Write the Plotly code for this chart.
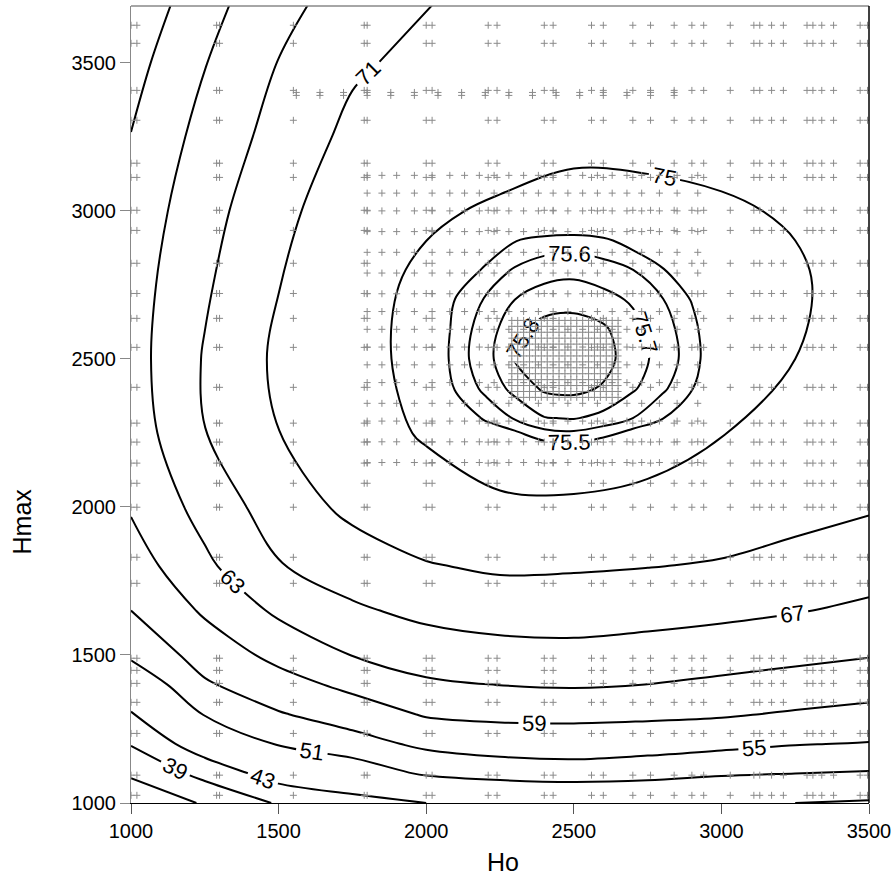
import plotly.graph_objects as go

# ---------------- data ----------------
ho_cols = [1000, 1250, 1500, 1750, 2000, 2250, 2500, 2750, 3000, 3250, 3500]
hmax_rows = [1000, 1100, 1200, 1300, 1400, 1500, 1650, 1800, 2000, 2250, 2500, 2750, 3000, 3250, 3500, 3700]
z_grid = [
    [31.9, 35.4, 39.4, 40.7, 43.0, 44.2, 44.9, 44.5, 43.8, 43.0, 42.25],
    [35.6, 40.24, 44.9, 48.3, 51.6, 53.0, 53.5, 53.0, 51.7, 51.0, 50.66],
    [39.26, 45.46, 51.4, 53.45, 55.86, 56.57, 56.64, 56.33, 55.96, 55.2, 54.8],
    [42.57, 51.32, 54.7, 56.86, 59.36, 59.94, 60.07, 59.82, 59.42, 58.6, 57.9],
    [47.58, 54.52, 57.44, 60.0, 62.39, 63.07, 63.37, 62.97, 62.24, 61.44, 60.67],
    [51.75, 56.66, 60.08, 63.1, 64.83, 65.56, 65.84, 65.36, 64.7, 63.98, 63.24],
    [55.0, 59.54, 63.73, 66.4, 68.0, 68.8, 68.85, 68.45, 67.94, 67.22, 66.29],
    [57.03, 62.21, 66.76, 69.0, 70.74, 71.55, 71.4, 71.1, 70.69, 69.62, 68.65],
    [59.4, 64.4, 69.0, 71.9, 73.7, 74.88, 74.88, 74.72, 73.1, 72.4, 71.4],
    [60.8, 66.95, 70.95, 73.8, 75.28, 75.42, 75.56, 75.46, 75.1, 74.0, 72.5],
    [61.4, 67.3, 71.7, 74.55, 75.4, 75.72, 75.86, 75.72, 75.4, 75.0, 73.6],
    [61.2, 66.5, 70.9, 74.45, 75.32, 75.6, 75.72, 75.65, 75.45, 75.3, 74.0],
    [60.4, 65.6, 69.8, 73.65, 74.78, 75.2, 75.4, 75.4, 75.25, 74.8, 73.8],
    [59.1, 64.4, 68.4, 72.0, 73.6, 74.3, 74.7, 74.6, 74.3, 74.0, 73.3],
    [57.6, 62.85, 67.1, 70.4, 72.1, 73.0, 73.5, 73.6, 73.4, 73.3, 72.8],
    [56.0, 61.5, 65.9, 68.6, 70.9, 71.9, 72.6, 72.8, 72.9, 72.8, 72.4],
]

ho_fine = [2000, 2100, 2200, 2300, 2400, 2500, 2600, 2700, 2800, 2900, 3000]
hmax_fine = [2100, 2200, 2300, 2400, 2500, 2600, 2700, 2800, 2900, 3000]
z_fine = [
    [74.5, 74.8, 74.9, 75.02, 75.06, 75.07, 75.06, 75.03, 74.95, 74.85, 74.7],
    [74.9, 75.06, 75.21, 75.35, 75.44, 75.46, 75.41, 75.32, 75.22, 75.13, 75.04],
    [75.08, 75.32, 75.53, 75.61, 75.695, 75.707, 75.67, 75.6, 75.508, 75.33, 75.19],
    [75.24, 75.52, 75.623, 75.733, 75.816, 75.826, 75.79, 75.714, 75.62, 75.509, 75.32],
    [75.33, 75.553, 75.657, 75.806, 75.858, 75.868, 75.836, 75.749, 75.66, 75.551, 75.377],
    [75.31, 75.544, 75.646, 75.77, 75.838, 75.848, 75.816, 75.733, 75.647, 75.539, 75.362],
    [75.22, 75.511, 75.609, 75.70, 75.748, 75.76, 75.733, 75.687, 75.606, 75.493, 75.30],
    [75.11, 75.34, 75.532, 75.612, 75.659, 75.672, 75.646, 75.602, 75.516, 75.354, 75.21],
    [74.99, 75.16, 75.334, 75.495, 75.536, 75.545, 75.524, 75.451, 75.32, 75.21, 75.11],
    [74.85, 75.006, 75.12, 75.22, 75.283, 75.30, 75.27, 75.21, 75.14, 75.07, 75.01],
]

# observation points (design lattice)
sparse_ho = [1000, 1020, 1290, 1300, 1550, 1790, 1800, 2000, 2020, 2210, 2240, 2400, 2430,
             2560, 2600, 2700, 2760, 2840, 2900, 2940, 3030, 3110, 3130, 3170, 3210, 3290,
             3310, 3340, 3380, 3470, 3495]
sparse_hmax = [1026, 1094, 1235, 1340, 1404, 1448, 1489, 1742, 1830, 1999, 2080, 2148, 2219,
               2283, 2404, 2539, 2637, 2721, 2823, 2934, 3002, 3113, 3161, 3306, 3407, 3566, 3627]
mid_ho = [1800, 1850, 1900, 1960, 2020, 2080, 2130, 2180, 2230, 2280, 2330, 2380, 2430, 2480,
          2530, 2580, 2630, 2680, 2730, 2790, 2850, 2920]
mid_hmax = [2150, 2220, 2290, 2350, 2420, 2480, 2540, 2600, 2660, 2720, 2790, 2860, 2930,
            3000, 3060, 3120]
band_ho = [1560, 1640, 1720, 1800, 1880, 1960, 2040, 2120, 2200, 2280, 2360, 2440, 2520,
           2600, 2680, 2760, 2840]
band_hmax = [3390, 3400]
core_ho = [2290, 2310, 2330, 2350, 2370, 2390, 2410, 2430, 2450, 2470, 2490, 2510, 2530,
           2550, 2570, 2590, 2610, 2630, 2650]
core_hmax = [2370, 2390, 2410, 2430, 2450, 2470, 2490, 2510, 2530, 2550, 2570, 2590, 2610, 2630]

levels_low = (35, 43, 4)
levels_mid = (51, 75, 4)
levels_top = (75.5, 75.81, 0.1)

# ---------------- figure ----------------
FONT = "Arial, Liberation Sans, sans-serif"
fig = go.Figure()

def add_points(xs, ys, color):
    px, py = [], []
    for y in ys:
        for x in xs:
            px.append(x)
            py.append(y)
    fig.add_trace(go.Scatter(
        x=px, y=py, mode="markers", hoverinfo="skip", showlegend=False,
        marker=dict(symbol="cross-thin", size=5, line=dict(width=1, color=color), color=color),
    ))

add_points(sparse_ho, sparse_hmax, "#8a8a8a")
add_points(mid_ho, mid_hmax, "#8a8a8a")
add_points(band_ho, band_hmax, "#8a8a8a")
add_points(core_ho, core_hmax, "#8a8a8a")

def add_contour(x, y, z, lv):
    fig.add_trace(go.Contour(
        x=x, y=y, z=z, showscale=False, hoverinfo="skip", showlegend=False,
        autocontour=False,
        contours=dict(start=lv[0], end=lv[1], size=lv[2], coloring="none",
                      showlabels=True, labelfont=dict(family=FONT, size=22, color="black")),
        line=dict(color="black", width=2, smoothing=1.0),
    ))

add_contour(ho_cols, hmax_rows, z_grid, levels_low)
add_contour(ho_cols, hmax_rows, z_grid, levels_mid)
add_contour(ho_fine, hmax_fine, z_fine, levels_top)

fig.update_layout(
    width=894, height=877,
    showlegend=False,
    margin=dict(l=131, r=25, t=6, b=74, autoexpand=False),
    paper_bgcolor="white", plot_bgcolor="white",
    font=dict(family=FONT, color="black"),
    xaxis=dict(range=[1000, 3500], tickvals=[1000, 1500, 2000, 2500, 3000, 3500],
               ticks="outside", ticklen=10, tickwidth=1, tickcolor="#555",
               showline=True, linecolor="black", linewidth=1,
               showgrid=False, zeroline=False, tickfont=dict(size=20, family=FONT)),
    yaxis=dict(range=[1000, 3692], tickvals=[1000, 1500, 2000, 2500, 3000, 3500],
               ticks="outside", ticklen=10, tickwidth=1, tickcolor="#888",
               showline=True, linecolor="#888", linewidth=1,
               showgrid=False, zeroline=False, tickfont=dict(size=20, family=FONT)),
    shapes=[
        dict(type="line", xref="paper", yref="paper", x0=0, x1=1, y0=1, y1=1,
             line=dict(color="#888", width=1.5)),
        dict(type="line", xref="paper", yref="paper", x0=1, x1=1, y0=0, y1=1,
             line=dict(color="black", width=1.5)),
    ],
    annotations=[
        dict(text="Ho", xref="paper", yref="paper", x=0.504, y=-0.074, showarrow=False,
             font=dict(size=25, family=FONT), xanchor="center", yanchor="middle"),
        dict(text="Hmax", xref="paper", yref="paper", x=-0.148, y=0.353, showarrow=False,
             font=dict(size=25, family=FONT), textangle=-90, xanchor="center", yanchor="middle"),
    ],
)

fig.write_html(
    "out.html",
    config={"displayModeBar": False},
    post_script="document.body.style.margin='0';document.body.style.overflow='hidden';",
)
